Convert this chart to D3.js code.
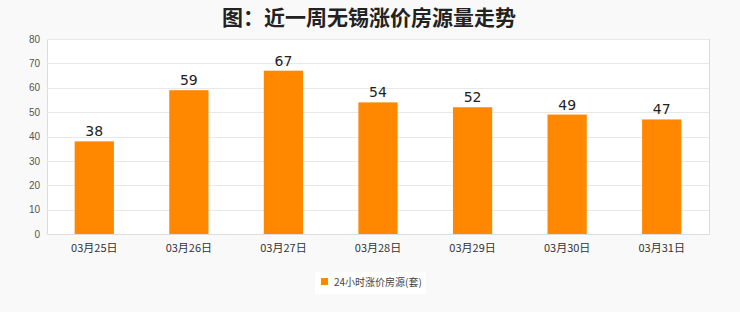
<!DOCTYPE html>
<html><head><meta charset="utf-8">
<script src="https://cdn.jsdelivr.net/npm/d3@7"></script>
<style>html,body{margin:0;padding:0;background:#f9f9f9;}</style>
</head><body>
<script>
const categories = ["03月25日","03月26日","03月27日","03月28日","03月29日","03月30日","03月31日"];
const values = [38,59,67,54,52,49,47];
const yTicks = [0,10,20,30,40,50,60,70,80];
const title = "图：近一周无锡涨价房源量走势";
const seriesName = "24小时涨价房源(套)";

const W=740,H=312;
const m={left:47,right:31,top:39,bottom:78};
const svg=d3.select("body").append("svg").attr("width",W).attr("height",H);
svg.append("rect").attr("width",W).attr("height",H).attr("fill","#f9f9f9");
const iw=W-m.left-m.right, ih=H-m.top-m.bottom;
const x=d3.scaleBand().domain(categories).range([m.left,m.left+iw]).paddingInner(0.585).paddingOuter(0.2925);
const y=d3.scaleLinear().domain([0,80]).range([m.top+ih,m.top]);

svg.append("rect").attr("x",m.left).attr("y",m.top).attr("width",iw).attr("height",ih)
  .attr("fill","#fff").attr("stroke","#dcdcdc").attr("stroke-width",1).attr("shape-rendering","crispEdges");

const ya=d3.axisLeft(y).tickValues(yTicks).tickSize(-iw).tickPadding(7);
const gy=svg.append("g").attr("transform",`translate(${m.left},0)`).call(ya);
gy.select(".domain").remove();
gy.selectAll(".tick line").attr("stroke","#e8e8e8").attr("shape-rendering","crispEdges");
gy.selectAll(".tick text").attr("fill","#555").attr("font-size","10px").attr("font-family","Liberation Sans, Arial, sans-serif");

const xa=d3.axisBottom(x).tickSize(0).tickPadding(10);
const gx=svg.append("g").attr("transform",`translate(0,${m.top+ih})`).call(xa);
gx.select(".domain").attr("stroke","#dcdcdc").attr("shape-rendering","crispEdges");
gx.selectAll(".tick text").attr("fill","#333").attr("font-size","11px").attr("font-family","Noto Sans CJK SC, sans-serif");

svg.append("g").selectAll("rect").data(values).join("rect")
  .attr("x",(d,i)=>x(categories[i])).attr("width",x.bandwidth())
  .attr("y",d=>y(d)).attr("height",d=>y(0)-y(d)).attr("fill","#ff8800");

svg.append("g").selectAll("text").data(values).join("text")
  .attr("x",(d,i)=>x(categories[i])+x.bandwidth()/2).attr("y",d=>y(d)-5)
  .attr("text-anchor","middle").attr("font-size","14px").attr("fill","#222")
  .attr("font-family","DejaVu Sans, sans-serif").text(d=>d);

svg.append("text").attr("x",369).attr("y",25).attr("text-anchor","middle")
  .attr("font-size","21px").attr("font-weight","bold").attr("fill","#222")
  .attr("font-family","Noto Sans CJK SC, sans-serif").text(title);

const lg=svg.append("g");
lg.append("rect").attr("x",315).attr("y",272).attr("width",111).attr("height",22).attr("fill","#fff");
lg.append("rect").attr("x",321).attr("y",278).attr("width",7).attr("height",7).attr("fill","#ff8800");
lg.append("text").attr("x",334).attr("y",285.5).attr("font-size","10px").attr("fill","#444")
  .attr("font-family","Noto Sans CJK SC, sans-serif").text(seriesName);
</script>
</body></html>
